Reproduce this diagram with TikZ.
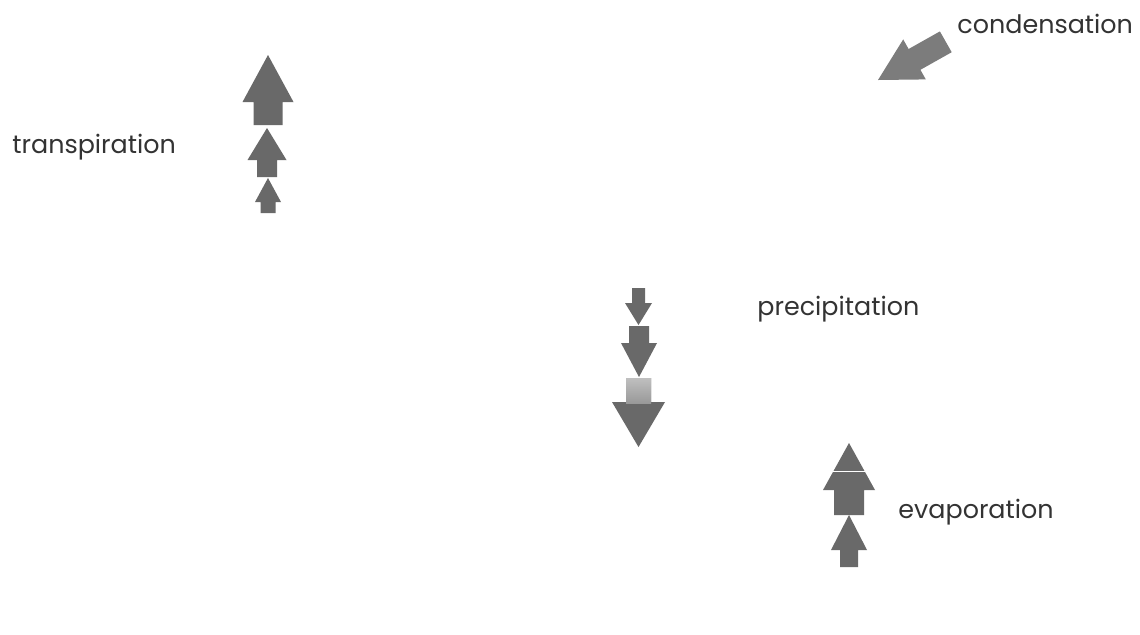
\documentclass[tikz,border=0pt]{standalone}
\usepackage{fontspec}
\setmainfont{Poppins}
\definecolor{arrowgray}{HTML}{696969}
\definecolor{condgray}{HTML}{7C7C7C}
\definecolor{textgray}{HTML}{333333}
\newcommand{\blkarrow}[7][]{% [opts]{x}{tip}{headbase}{headhalf}{shafthalf}{end}
  \fill[arrowgray,#1] (#2-#6,#7) -- (#2-#6,#4) -- (#2-#5,#4) -- (#2,#3) -- (#2+#5,#4) -- (#2+#6,#4) -- (#2+#6,#7) -- cycle;}
\begin{document}
\begin{tikzpicture}[x=0.5pt,y=-0.5pt,
  label/.style={inner sep=0pt,anchor=base west,text=textgray,font=\fontsize{12.7pt}{14pt}\selectfont}]
\useasboundingbox (0,0) rectangle (1140,634);
\fill[white] (0,0) rectangle (1140,634);
% transpiration arrows
\blkarrow{268}{55}{102}{25.5}{14.5}{125}
\blkarrow{267}{128}{160}{19.5}{10}{177}
\blkarrow{268}{178}{202}{13}{7.5}{213}
% precipitation arrows
\blkarrow{638.5}{325}{303}{13.5}{6.5}{288}
\blkarrow{639}{377}{343}{18}{10}{326}
\blkarrow{638.5}{447}{402}{26.5}{12.5}{378}
\shade[top color=gray!50,bottom color=gray!80] (626,378) rectangle (651,403);
% evaporation arrows
\blkarrow{849}{443}{490}{26}{15}{515}
\draw[white,line width=0.8pt] (833,471.5) -- (865,471.5);
\blkarrow{849}{515}{550}{18}{9}{567}
% condensation arrow
\fill[condgray] (878,80) -- (925.8,79.4) -- (920.4,69.8) -- (951.7,52.2) -- (939.9,31.4) -- (908.6,49.0) -- (903.2,39.4) -- cycle;
% labels
\node[label] (transp) at (12,153) {transpiration};
\node[label] (precip) at (757,315) {precipitation};
\node[label] (evap) at (898,518) {evaporation};
\node[label] (cond) at (957,33) {condensation};
\end{tikzpicture}
\end{document}
